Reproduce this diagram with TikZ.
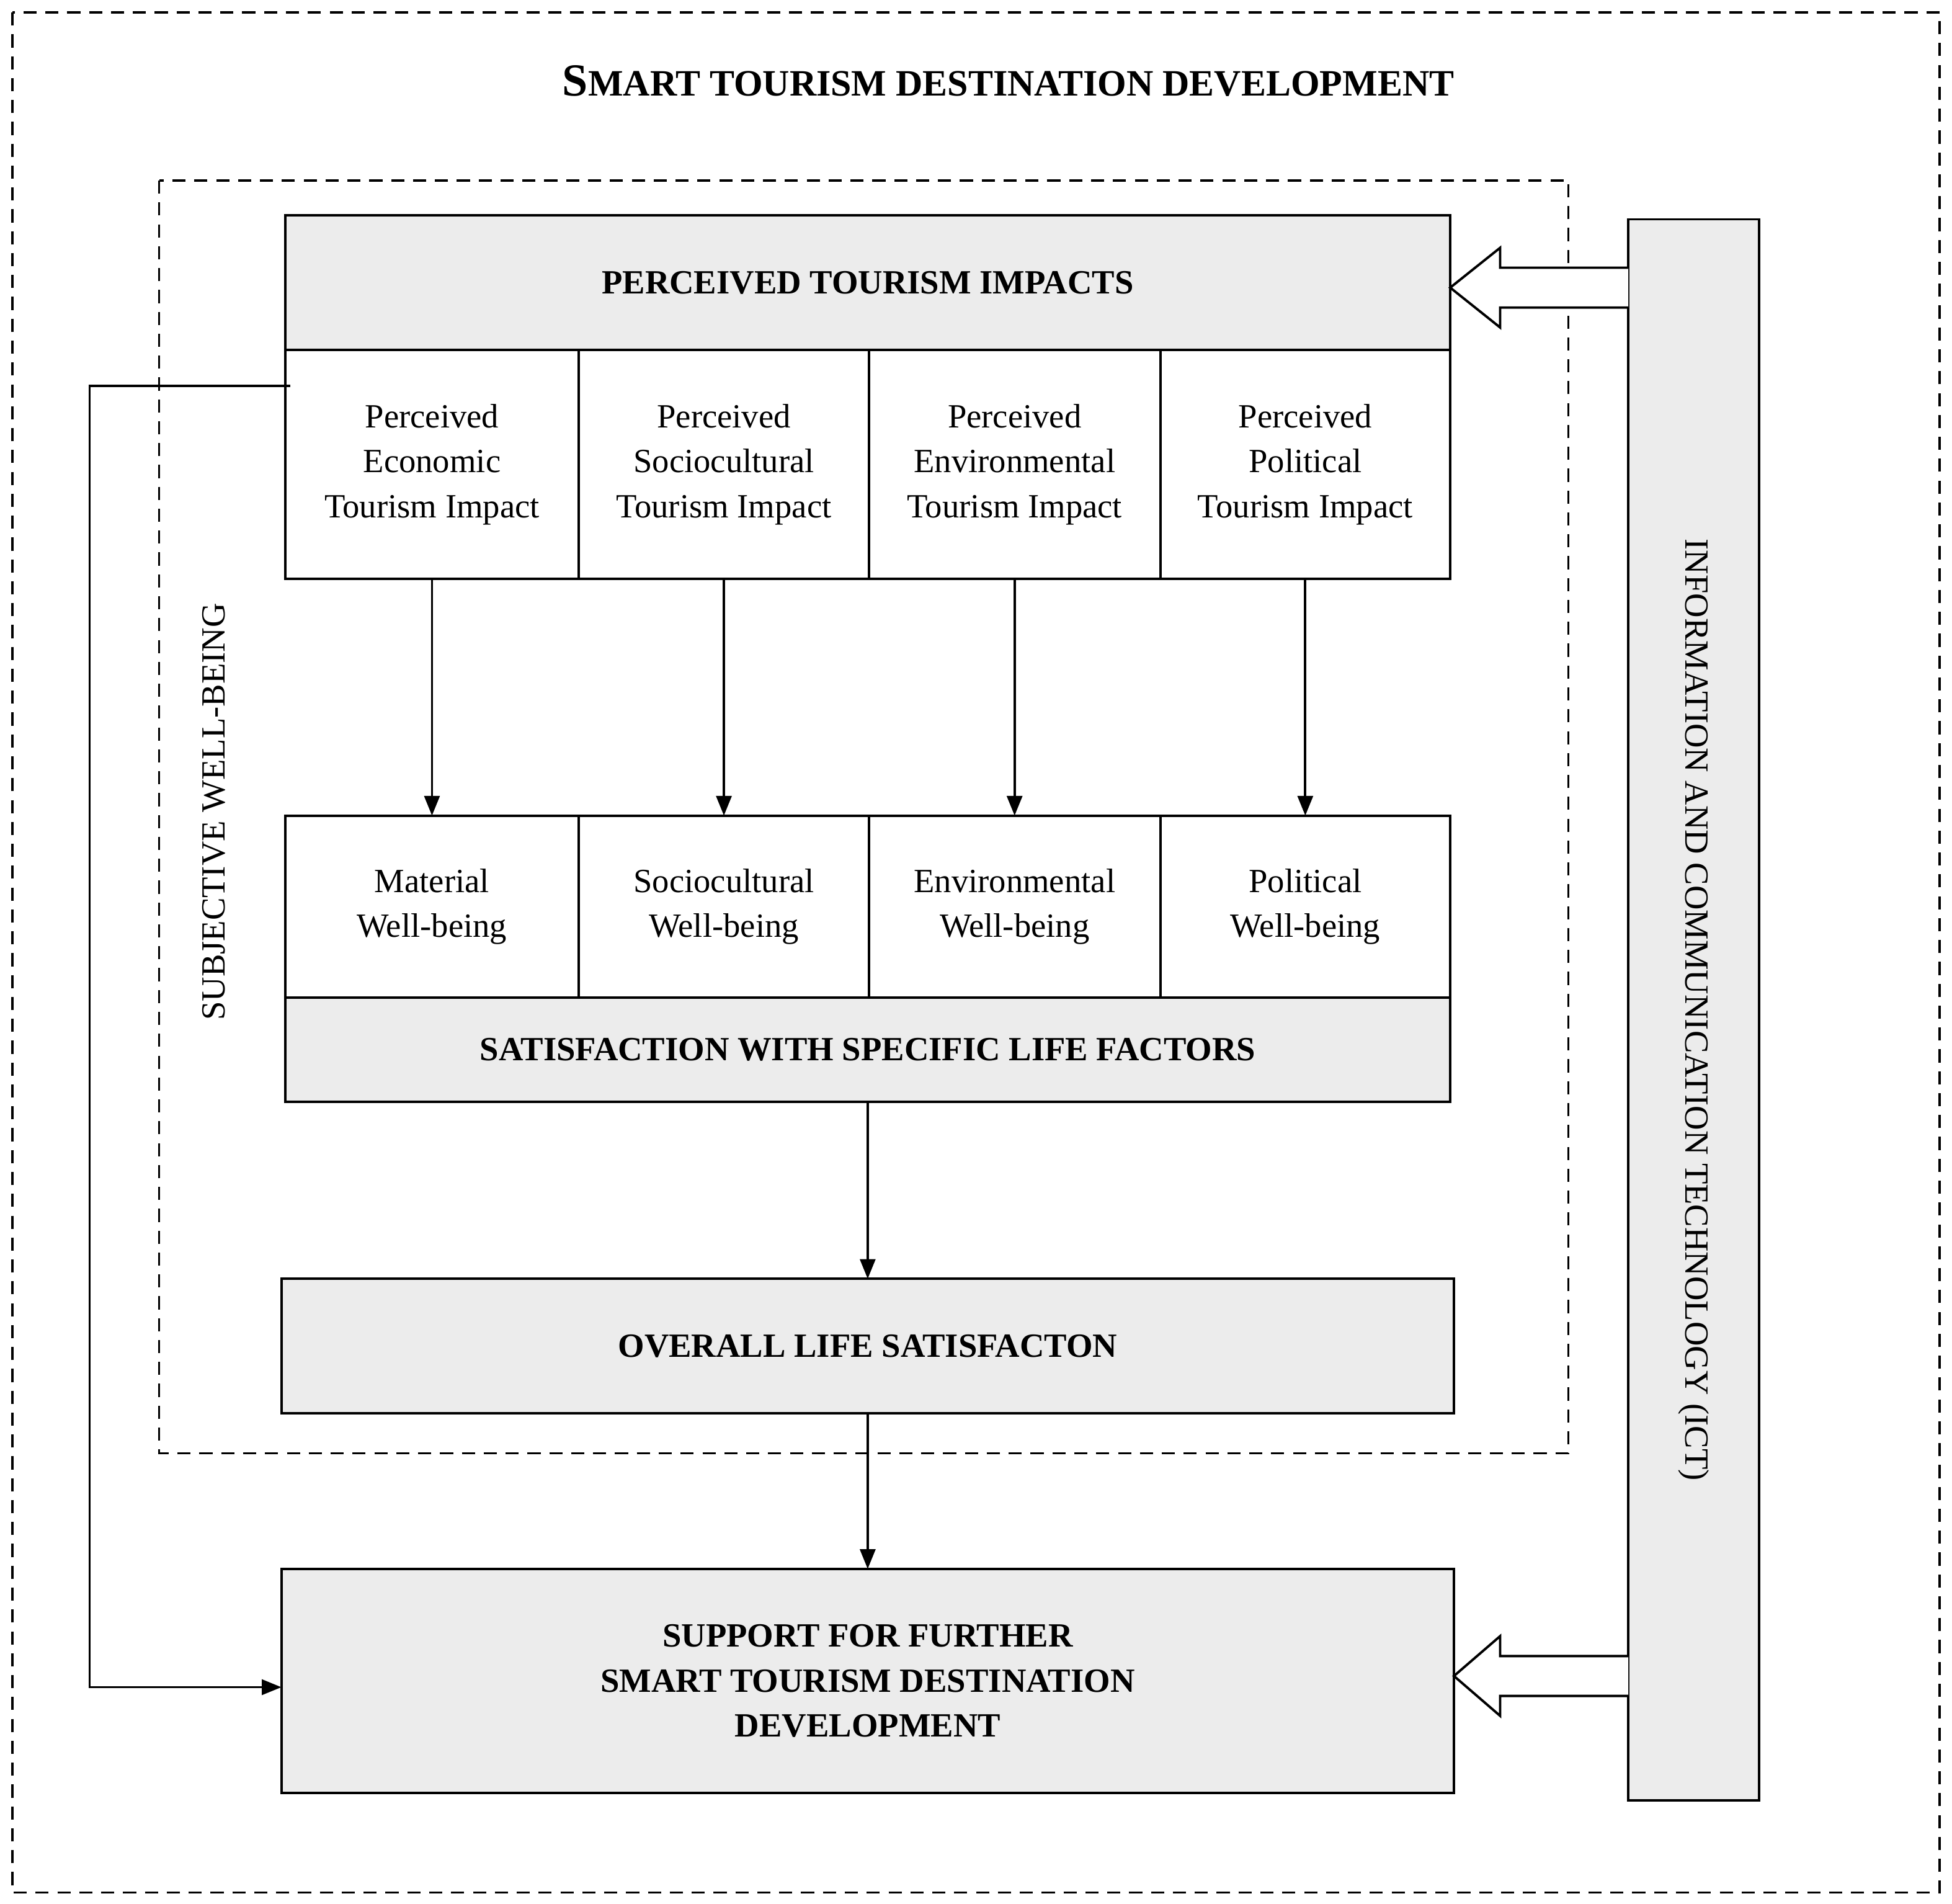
\documentclass[tikz,border=0pt]{standalone}
\usepackage{fontspec}
\setmainfont{Liberation Serif}
\usetikzlibrary{arrows.meta}
\begin{document}
\begin{tikzpicture}[x=0.02cm,y=-0.02cm,
  box/.style={draw,line width=1.1pt,inner sep=0pt,outer sep=0pt,align=center,font=\fontsize{15.5pt}{20.5pt}\selectfont},
  gbox/.style={box,fill=gray!15,font=\fontsize{15.5pt}{20.5pt}\selectfont\bfseries},
  dsh/.style={draw,line width=0.9pt,dash pattern=on 6pt off 4pt},
  arr/.style={line width=1.1pt,-{Triangle[length=9pt,width=7pt]}},
  hollow/.style={draw,line width=1.1pt,fill=white}]
\useasboundingbox (0,0) rectangle (1568,1529);
\draw[dsh] (10,10) rectangle (1558,1520);
\node[font=\fontsize{17pt}{20pt}\selectfont\bfseries] (title) at (810,65) {{\fontsize{21pt}{20pt}\selectfont S}MART TOURISM DESTINATION DEVELOPMENT};
\draw[dsh] (128,145) rectangle (1260,1167);
\node[rotate=90,font=\fontsize{15.5pt}{20pt}\selectfont] (swb) at (172,652) {SUBJECTIVE WELL-BEING};
% top
\node[gbox,minimum width=18.72cm,minimum height=2.16cm] (pti) at (697,227) {PERCEIVED TOURISM IMPACTS};
\node[box,minimum width=4.72cm,minimum height=3.68cm] (e1) at (347,373) {Perceived\\Economic\\Tourism Impact};
\node[box,minimum width=4.66cm,minimum height=3.68cm] (e2) at (581.5,373) {Perceived\\Sociocultural\\Tourism Impact};
\node[box,minimum width=4.68cm,minimum height=3.68cm] (e3) at (815,373) {Perceived\\Environmental\\Tourism Impact};
\node[box,minimum width=4.66cm,minimum height=3.68cm] (e4) at (1048.5,373) {Perceived\\Political\\Tourism Impact};
\node[box,minimum width=4.72cm,minimum height=2.92cm] (m1) at (347,728) {Material\\Well-being};
\node[box,minimum width=4.66cm,minimum height=2.92cm] (m2) at (581.5,728) {Sociocultural\\Well-being};
\node[box,minimum width=4.68cm,minimum height=2.92cm] (m3) at (815,728) {Environmental\\Well-being};
\node[box,minimum width=4.66cm,minimum height=2.92cm] (m4) at (1048.5,728) {Political\\Well-being};
\node[gbox,minimum width=18.72cm,minimum height=1.68cm] (sat) at (697,843) {\raisebox{-0.3cm}{SATISFACTION WITH SPECIFIC LIFE FACTORS}};
\node[gbox,minimum width=18.84cm,minimum height=2.16cm] (ols) at (697,1081) {OVERALL LIFE SATISFACTON};
\node[gbox,minimum width=18.84cm,minimum height=3.6cm] (sup) at (697,1350) {SUPPORT FOR FURTHER\\SMART TOURISM DESTINATION\\DEVELOPMENT};
\node[gbox,minimum width=2.1cm,minimum height=25.4cm] (ict) at (1360.5,811) {};
\node[rotate=-90,font=\fontsize{15.5pt}{20pt}\selectfont] (ictt) at (1360.5,811) {INFORMATION AND COMMUNICATION TECHNOLOGY (ICT)};
\foreach \i in {1,2,3,4} \draw[arr] (e\i.south) -- (m\i.north);
\draw[arr] (sat.south) -- (ols.north);
\draw[arr] (ols.south) -- (sup.north);
\coordinate (fb) at (233,310);
\draw[arr] (fb) -- (72,310) -- (72,1355) -- (sup.west |- 0,1355);
% hollow arrows
\draw[hollow] (ict.west |- 0,215) -- (1205,215) -- (1205,199) -- (pti.east |- 0,231) -- (1205,263) -- (1205,247) -- (ict.west |- 0,247);
\draw[hollow] (ict.west |- 0,1330) -- (1205,1330) -- (1205,1314) -- (sup.east |- 0,1346) -- (1205,1378) -- (1205,1362) -- (ict.west |- 0,1362);
\end{tikzpicture}
\end{document}
